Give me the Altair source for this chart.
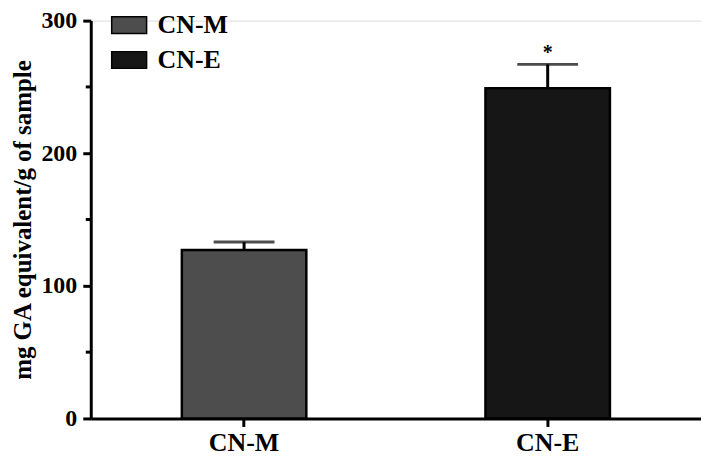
import altair as alt
import pandas as pd

categories = ["CN-M", "CN-E"]
means = [127, 249]
errors = [6, 18]
fills = ["#4d4d4d", "#161616"]
sig_marks = ["", "*"]
minor_ticks = [50, 150, 250]

df = pd.DataFrame({
    "cat": categories,
    "mean": means,
    "top": [m + e for m, e in zip(means, errors)],
    "sig": sig_marks,
})
minor_df = pd.DataFrame({"v": minor_ticks})

FONT = "Liberation Serif"

x_enc = alt.X("cat:N", sort=categories, scale=alt.Scale(paddingInner=0.59, paddingOuter=0.3),
              axis=alt.Axis(title=None, labelFontSize=26, labelFont=FONT, labelFontWeight="bold",
                            labelColor="black", labelAngle=0, domainWidth=3, domainColor="black",
                            tickWidth=3, tickColor="black", tickSize=8, labelPadding=3))
y_scale = alt.Scale(domain=[0, 300], nice=False)

bars = alt.Chart(df).mark_bar(stroke="black", strokeWidth=2.5).encode(
    x=x_enc,
    y=alt.Y("mean:Q", scale=y_scale,
            axis=alt.Axis(title="mg GA equivalent/g of sample", values=[0, 100, 200, 300],
                          titleFontSize=25, titleFont=FONT, titleFontWeight="bold", titleColor="black",
                          labelFontSize=24, labelFont=FONT, labelFontWeight="bold", labelColor="black",
                          domainWidth=3, domainColor="black", tickWidth=3, tickColor="black",
                          tickSize=8, labelPadding=6, grid=False, titlePadding=5)),
    color=alt.Color("cat:N", sort=categories,
                    scale=alt.Scale(domain=categories, range=fills),
                    legend=alt.Legend(title=None, orient="none", legendX=20, legendY=-14,
                                      symbolType="M-1,-0.48H1V0.48H-1Z", symbolSize=1225,
                                      symbolStrokeColor="black", symbolStrokeWidth=1.5,
                                      labelFontSize=26, labelFont=FONT, labelFontWeight="bold",
                                      labelColor="black", labelOffset=10, rowPadding=3)),
)

err_line = alt.Chart(df).mark_rule(color="black", strokeWidth=3).encode(
    x=alt.X("cat:N", sort=categories), y="mean:Q", y2="top:Q")
err_cap = alt.Chart(df).mark_tick(color="black", thickness=3, size=61, orient="horizontal").encode(
    x=alt.X("cat:N", sort=categories), y="top:Q")
stars = alt.Chart(df).mark_text(fontSize=20, font=FONT, fontWeight="bold", color="black",
                                baseline="bottom", dy=-1).encode(
    x=alt.X("cat:N", sort=categories), y="top:Q", text="sig:N")
minor = alt.Chart(minor_df).mark_rule(color="black", strokeWidth=3).encode(
    y=alt.Y("v:Q", scale=y_scale), x=alt.value(-5), x2=alt.value(0))

chart = alt.layer(bars, err_line, err_cap, stars, minor).properties(
    width=612, height=399,
    autosize=alt.AutoSizeParams(type="none"),
    padding={"left": 83, "top": 12, "right": 0, "bottom": 40},
).configure_view(stroke=None).configure(background="white")

chart.save("out.html", embed_options={"renderer": "svg", "actions": False})
